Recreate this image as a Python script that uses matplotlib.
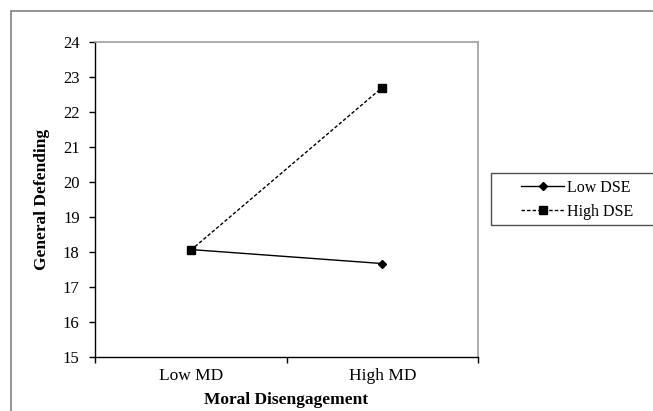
import matplotlib
matplotlib.use('Agg')
import matplotlib.pyplot as plt
from matplotlib.patches import Rectangle

categories = ['Low MD', 'High MD']
low_dse = [18.07, 17.67]
high_dse = [18.05, 22.70]
yticks = [15, 16, 17, 18, 19, 20, 21, 22, 23, 24]

plt.rcParams['font.family'] = ['Liberation Serif', 'DejaVu Serif']

fig = plt.figure(figsize=(6.53, 4.11), dpi=100)
ax = fig.add_axes([95 / 653, 54 / 411, 383 / 653, 315 / 411])

ind = [0.5, 1.5]
l1, = ax.plot(ind, low_dse, color='black', lw=1.0, marker='D', ms=4.2, label='Low DSE')
l2, = ax.plot(ind, high_dse, color='black', lw=1.0, ls=(0, (2.5, 1.5)), marker='s', ms=6,
              label='High DSE')

ax.set_xlim(0, 2)
ax.set_ylim(15, 24)
ax.set_yticks(yticks)
ax.set_xticks([0, 1, 2])
ax.set_xticklabels([])
ax.set_xticks(ind, minor=True)
ax.set_xticklabels(categories, minor=True)
ax.tick_params(axis='x', which='minor', length=0, pad=8, labelsize=12.5)
ax.tick_params(axis='x', which='major', direction='out', length=4, width=1)
ax.tick_params(axis='y', direction='out', length=4, width=1, pad=7, labelsize=12)

for s in ['top', 'right']:
    ax.spines[s].set_color('#a0a0a0')
    ax.spines[s].set_linewidth(1.2)
for s in ['left', 'bottom']:
    ax.spines[s].set_color('black')
    ax.spines[s].set_linewidth(1.0)

ax.set_ylabel('General Defending', fontsize=12.5, fontweight='bold', labelpad=9)
ax.set_xlabel('Moral Disengagement', fontsize=12.5, fontweight='bold', labelpad=6)

# outer chart frame
fig.patches.append(Rectangle((11 / 653, -0.2), 1.2, (411 - 11) / 411 + 0.2,
                             transform=fig.transFigure, fill=False,
                             edgecolor='#808080', lw=1.2))
# legend frame
fig.patches.append(Rectangle((491 / 653, (411 - 225) / 411), 0.4, 52 / 411,
                             transform=fig.transFigure, fill=False,
                             edgecolor='#505050', lw=1.0))
fig.legend(handles=[l1, l2], loc='center left', bbox_to_anchor=(521 / 653, (411 - 200) / 411),
           frameon=False, fontsize=11.5, handlelength=2.7, handletextpad=0.15,
           borderpad=0, borderaxespad=0, labelspacing=0.5)

fig.savefig('out.png', dpi=100)
